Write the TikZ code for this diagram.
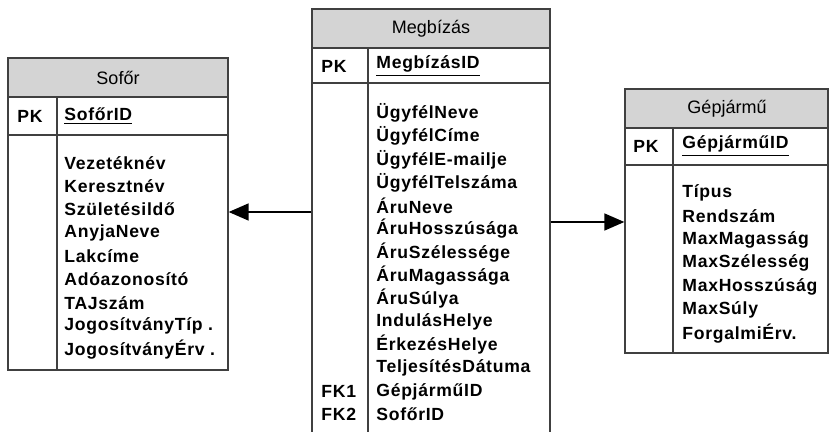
\documentclass[tikz,border=0pt]{standalone}
\usepackage{fontspec}
\setmainfont{Liberation Sans}
\newfontfamily\attrfont[LetterSpace=4]{Liberation Sans}
\usetikzlibrary{arrows.meta,fit}
\definecolor{headgray}{RGB}{212,212,212}
\definecolor{linegray}{RGB}{64,64,64}
\tikzset{
  box/.style={draw=linegray, line width=0.65pt, inner sep=0pt},
  headtext/.style={font=\fontsize{9}{10}\selectfont},
  key/.style={anchor=west, inner sep=0pt, font=\attrfont\bfseries\fontsize{8.8}{10}\selectfont},
  arr/.style={-{Triangle[length=10pt,width=8.5pt]}, line width=0.75pt},
}
\begin{document}
\begin{tikzpicture}[x=0.5pt,y=-0.5pt]
\useasboundingbox (0,0) rectangle (830,432);
% Sofőr
\fill[headgray] (8,58) rectangle (228,97);
\node[box, fit={(8,58) (228,370)}] (sofor) {};
\draw[box] (8,97) -- (228,97);
\draw[box] (8,135) -- (228,135);
\draw[box] (57,97) -- (57,370);
\node[headtext] (soforhead) at (118,77.5) {Sofőr};
\node[key] (soforpk) at (17,116) {PK};
\node[key] (soforid) at (64,116) {\underline{SofőrID}};
\foreach \a [count=\i from 0] in {Vezetéknév, Keresztnév, Születésildő, AnyjaNeve,
  Lakcíme, Adóazonosító, TAJszám, JogosítványTíp ., JogosítványÉrv .}
  \node[key] (sofor\i) at (64,{163+23.3*\i}) {\a};
% Megbízás
\fill[headgray] (312,9) rectangle (550,48);
\node[box, fit={(312,9) (550,440)}] (megbizas) {};
\draw[box] (312,48) -- (550,48);
\draw[box] (312,83) -- (550,83);
\draw[box] (368,48) -- (368,440);
\node[headtext] (megbizashead) at (431,28.5) {Megbízás};
\node[key] (megbizaspk) at (321,66) {PK};
\node[key] (megbizasid) at (376,66) {\underline{MegbízásID}};
\foreach \a [count=\i from 0] in {ÜgyfélNeve, ÜgyfélCíme, ÜgyfélE-mailje, ÜgyfélTelszáma,
  ÁruNeve, ÁruHosszúsága, ÁruSzélessége, ÁruMagassága, ÁruSúlya, IndulásHelye,
  ÉrkezésHelye, TeljesítésDátuma, GépjárműID, SofőrID}
  \node[key] (megbizas\i) at (376,{113+23.2*\i}) {\a};
\node[key] (fk1) at (321,{113+23.2*12}) {FK1};
\node[key] (fk2) at (321,{113+23.2*13}) {FK2};
% Gépjármű
\fill[headgray] (625,89) rectangle (828,128);
\node[box, fit={(625,89) (828,353)}] (gepjarmu) {};
\draw[box] (625,128) -- (828,128);
\draw[box] (625,165) -- (828,165);
\draw[box] (673,128) -- (673,353);
\node[headtext] (gepjarmuhead) at (727,108.5) {Gépjármű};
\node[key] (gepjarmupk) at (633,146) {PK};
\node[key] (gepjarmuid) at (682,146) {\underline{GépjárműID}};
\foreach \a [count=\i from 0] in {Típus, Rendszám, MaxMagasság, MaxSzélesség,
  MaxHosszúság, MaxSúly, ForgalmiÉrv.}
  \node[key] (gepjarmu\i) at (682,{193+23.4*\i}) {\a};
% kapcsolatok
\coordinate (leftlevel) at (0,212);
\coordinate (rightlevel) at (0,222);
\draw[arr] (megbizas.west |- leftlevel) -- (sofor.east |- leftlevel);
\draw[arr] (megbizas.east |- rightlevel) -- (gepjarmu.west |- rightlevel);
\end{tikzpicture}
\end{document}
